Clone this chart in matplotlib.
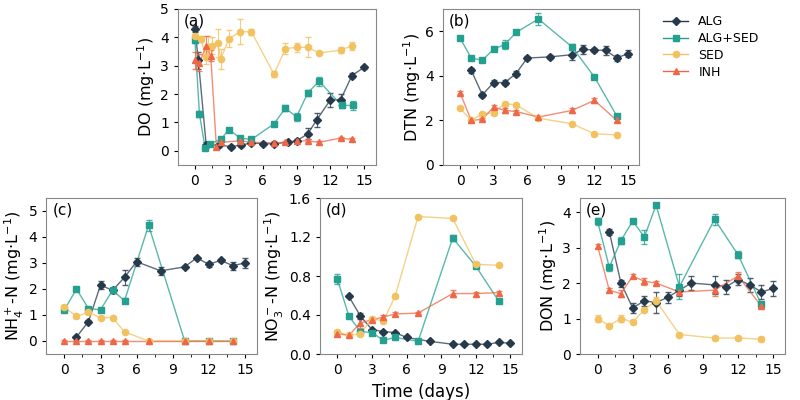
import numpy as np
import matplotlib.pyplot as plt
from matplotlib.lines import Line2D

names = ['ALG', 'ALG+SED', 'SED', 'INH']
colors = ['#263a4c', '#23a08f', '#f2c261', '#ee6848']
markers = ['D', 's', 'o', '^']

# (a) DO
a_x = {
    'ALG': [0, 0.3, 1, 2.1, 3.2, 4.1, 5, 6, 7, 8.2, 9, 10, 10.8, 12, 12.9, 13.9, 15],
    'ALG+SED': [0, 0.4, 0.9, 1.3, 2.3, 3, 4, 5, 7, 8, 9, 10, 11, 13, 14],
    'SED': [0, 0.5, 1, 1.2, 1.5, 2, 2.3, 3, 4, 5, 7, 8, 9, 10, 11, 12.9, 13.9],
    'INH': [0, 0.4, 1, 1.4, 1.9, 2.3, 4, 5, 7, 8, 9, 10, 11, 12.9, 13.9],
}
a_y = {
    'ALG': [4.3, 3.2, 0.2, 0.2, 0.15, 0.2, 0.28, 0.25, 0.25, 0.3, 0.35, 0.6, 1.1, 1.8, 1.8, 2.65, 2.95],
    'ALG+SED': [3.9, 1.3, 0.1, 0.25, 0.4, 0.75, 0.45, 0.4, 0.95, 1.5, 1.2, 2.05, 2.45, 1.6, 1.6],
    'SED': [4.05, 3.95, 3.3, 3.65, 3.7, 3.8, 3.25, 3.95, 4.2, 4.2, 2.7, 3.6, 3.65, 3.65, 3.45, 3.55, 3.7],
    'INH': [3.2, 3.1, 3.7, 3.35, 0.15, 0.3, 0.35, 0.3, 0.28, 0.3, 0.35, 0.35, 0.3, 0.45, 0.4],
}
a_e = {
    'ALG': [0.1, 0.3, 0.1, 0.05, 0.05, 0.05, 0.05, 0.05, 0.05, 0.05, 0.05, 0.2, 0.25, 0.25, 0.2, 0.1, 0.05],
    'ALG+SED': [0.1, 0.1, 0.05, 0.05, 0.05, 0.05, 0.05, 0.05, 0.05, 0.1, 0.15, 0.1, 0.15, 0.1, 0.15],
    'SED': [0.2, 0.1, 0.25, 0.4, 0.3, 0.5, 0.35, 0.3, 0.45, 0.1, 0.1, 0.2, 0.15, 0.35, 0.05, 0.1, 0.15],
    'INH': [0.3, 0.3, 0.35, 0.2, 0.05, 0.05, 0.05, 0.05, 0.05, 0.05, 0.05, 0.05, 0.05, 0.05, 0.05],
}

days10 = [0, 1, 2, 3, 4, 5, 7, 10, 12, 14]

# (b) DTN
b_x = {'ALG': [1, 2, 3, 4, 5, 6, 8, 10, 11, 12, 13, 14, 15], 'ALG+SED': days10, 'SED': days10, 'INH': days10}
b_y = {
    'ALG': [4.25, 3.15, 3.7, 3.7, 4.1, 4.8, 4.85, 4.95, 5.2, 5.15, 5.15, 4.8, 5.0],
    'ALG+SED': [5.7, 4.8, 4.7, 5.2, 5.4, 5.95, 6.55, 5.3, 3.95, 2.2],
    'SED': [2.55, 2.0, 2.3, 2.35, 2.75, 2.7, 2.1, 1.85, 1.4, 1.35],
    'INH': [3.25, 2.0, 2.05, 2.6, 2.45, 2.4, 2.15, 2.45, 2.9, 2.0],
}
b_e = {
    'ALG': [0.1, 0.1, 0.1, 0.1, 0.1, 0.1, 0.1, 0.25, 0.2, 0.1, 0.2, 0.15, 0.15],
    'ALG+SED': [0.05, 0.05, 0.05, 0.05, 0.2, 0.05, 0.25, 0.15, 0.1, 0.05],
    'SED': [0.05, 0.05, 0.1, 0.1, 0.05, 0.05, 0.05, 0.05, 0.05, 0.05],
    'INH': [0.05, 0.05, 0.05, 0.1, 0.1, 0.05, 0.05, 0.1, 0.1, 0.05],
}

# (c) NH4+-N
c_x = {'ALG': [1, 2, 3, 4, 5, 6, 8, 10, 11, 12, 13, 14, 15], 'ALG+SED': days10, 'SED': days10, 'INH': days10}
c_y = {
    'ALG': [0.15, 0.75, 2.15, 1.95, 2.45, 3.05, 2.7, 2.85, 3.2, 2.95, 3.1, 2.9, 3.0],
    'ALG+SED': [1.2, 2.0, 1.25, 1.2, 1.95, 1.55, 4.45, 0.0, 0.0, 0.0],
    'SED': [1.3, 0.95, 1.1, 0.9, 0.9, 0.35, 0.0, 0.0, 0.0, 0.0],
    'INH': [0, 0, 0, 0, 0, 0, 0, 0, 0, 0],
}
c_e = {
    'ALG': [0.05, 0.05, 0.15, 0.1, 0.3, 0.15, 0.15, 0.05, 0.05, 0.1, 0.05, 0.15, 0.2],
    'ALG+SED': [0.1, 0.05, 0.05, 0.05, 0.1, 0.1, 0.2, 0.02, 0.02, 0.02],
    'SED': [0.1, 0.05, 0.05, 0.05, 0.05, 0.05, 0.02, 0.02, 0.02, 0.02],
    'INH': [0.02] * 10,
}

# (d) NO3--N
d_x = {'ALG': [1, 2, 3, 4, 5, 6, 8, 10, 11, 12, 13, 14, 15], 'ALG+SED': days10, 'SED': days10, 'INH': days10}
d_y = {
    'ALG': [0.59, 0.39, 0.25, 0.23, 0.22, 0.17, 0.13, 0.1, 0.1, 0.1, 0.1, 0.12, 0.11],
    'ALG+SED': [0.77, 0.39, 0.23, 0.22, 0.14, 0.17, 0.13, 1.19, 0.9, 0.54],
    'SED': [0.23, 0.19, 0.21, 0.36, 0.34, 0.59, 1.41, 1.39, 0.92, 0.91],
    'INH': [0.21, 0.19, 0.32, 0.35, 0.38, 0.41, 0.42, 0.62, 0.62, 0.63],
}
d_e = {
    'ALG': [0.01, 0.03, 0.01, 0.01, 0.01, 0.01, 0.01, 0.01, 0.01, 0.01, 0.01, 0.01, 0.01],
    'ALG+SED': [0.05, 0.01, 0.01, 0.01, 0.01, 0.01, 0.01, 0.03, 0.02, 0.01],
    'SED': [0.02, 0.01, 0.02, 0.02, 0.02, 0.02, 0.01, 0.02, 0.02, 0.01],
    'INH': [0.02, 0.01, 0.05, 0.02, 0.02, 0.02, 0.01, 0.04, 0.02, 0.02],
}

# (e) DON
e_x = {'ALG': [1, 2, 3, 4, 5, 6, 7, 8, 10, 11, 12, 13, 14, 15], 'ALG+SED': days10, 'SED': days10, 'INH': days10}
e_y = {
    'ALG': [3.45, 2.0, 1.3, 1.5, 1.45, 1.6, 1.8, 2.0, 1.95, 1.9, 2.1, 1.95, 1.75, 1.85],
    'ALG+SED': [3.75, 2.45, 3.2, 3.75, 3.3, 4.2, 1.9, 3.8, 2.8, 1.4],
    'SED': [1.0, 0.8, 1.0, 0.9, 1.25, 1.5, 0.55, 0.45, 0.45, 0.42],
    'INH': [3.05, 1.8, 1.7, 2.2, 2.05, 2.0, 1.75, 1.8, 2.2, 1.35],
}
e_e = {
    'ALG': [0.08, 0.1, 0.15, 0.15, 0.3, 0.15, 0.15, 0.2, 0.25, 0.2, 0.15, 0.2, 0.2, 0.22],
    'ALG+SED': [0.1, 0.1, 0.1, 0.05, 0.2, 0.05, 0.35, 0.15, 0.1, 0.05],
    'SED': [0.1, 0.05, 0.1, 0.05, 0.05, 0.1, 0.05, 0.05, 0.05, 0.05],
    'INH': [0.05, 0.05, 0.1, 0.05, 0.1, 0.05, 0.05, 0.15, 0.1, 0.05],
}

panels = [
    ([0.2225, 0.5875, 0.247, 0.39], a_x, a_y, a_e, 'DO (mg$\\cdot$L$^{-1}$)', (-0.5, 5), [0, 1, 2, 3, 4, 5], '(a)', ''),
    ([0.554, 0.5875, 0.245, 0.39], b_x, b_y, b_e, 'DTN (mg$\\cdot$L$^{-1}$)', (0, 7), [0, 2, 4, 6], '(b)', ''),
    ([0.058, 0.115, 0.263, 0.39], c_x, c_y, c_e, 'NH$_4^+$-N (mg$\\cdot$L$^{-1}$)', (-0.5, 5.5), [0, 1, 2, 3, 4, 5], '(c)', ''),
    ([0.40, 0.115, 0.2525, 0.39], d_x, d_y, d_e, 'NO$_3^-$-N (mg$\\cdot$L$^{-1}$)', (0, 1.6), [0, 0.4, 0.8, 1.2, 1.6], '(d)', 'Time (days)'),
    ([0.725, 0.115, 0.256, 0.39], e_x, e_y, e_e, 'DON (mg$\\cdot$L$^{-1}$)', (0, 4.4), [0, 1, 2, 3, 4], '(e)', ''),
]

fig = plt.figure(figsize=(8, 4), dpi=100)
for rect, xs, ys, es, ylab, ylim, yt, tag, xlab in panels:
    ax = fig.add_axes(rect)
    for n, c, m in zip(names, colors, markers):
        x = np.array(xs[n]); y = np.array(ys[n]); e = np.array(es[n])
        ax.plot(x, y, color=c, lw=1, alpha=0.75, zorder=2)
        ax.errorbar(x, y, yerr=e, fmt='none', ecolor=c, elinewidth=0.8, capsize=2.5, alpha=0.8, zorder=2)
        ax.plot(x, y, ls='none', marker=m, ms=4.5 if m != 'D' else 4, color=c, zorder=3)
    ax.set_xlim(-1.5, 16)
    ax.set_xticks([0, 3, 6, 9, 12, 15])
    ax.set_xticks(np.arange(0, 16, 1.5), minor=True)
    ax.set_ylim(*ylim)
    ax.set_yticks(yt)
    if tag == '(d)':
        ax.set_yticklabels(['0.0', '0.4', '0.8', '1.2', '1.6'])
    ax.tick_params(labelsize=10, length=3, width=0.8)
    ax.tick_params(which='minor', length=2, width=0.6)
    for s in ax.spines.values():
        s.set_color('#888888')
    ax.set_ylabel(ylab, fontsize=11.5, labelpad=2)
    if xlab:
        ax.set_xlabel(xlab, fontsize=12)
    ax.text(0.03, 0.97, tag, transform=ax.transAxes, fontsize=11, va='top', ha='left')

handles = [Line2D([], [], color=c, marker=m, ms=4.5, lw=1) for c, m in zip(colors, markers)]
fig.legend(handles=handles, labels=names, loc='upper left', bbox_to_anchor=(0.815, 0.99),
           frameon=False, fontsize=9, handlelength=2, labelspacing=0.3)
fig.savefig('out.png', dpi=100)
